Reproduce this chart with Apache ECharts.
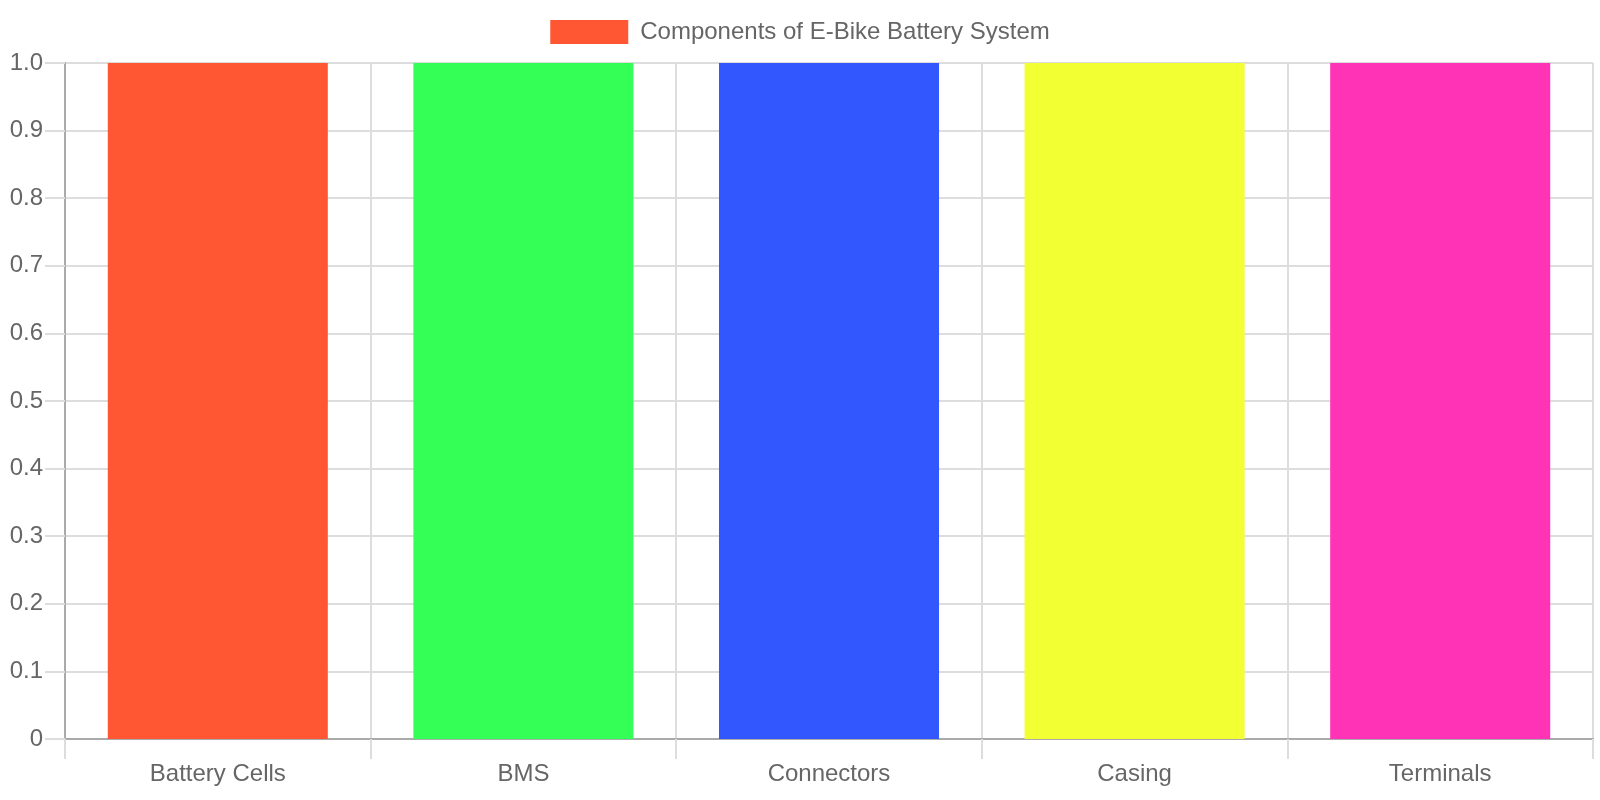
<!DOCTYPE html>
<html>
<head>
<meta charset="utf-8">
<script src="https://cdn.jsdelivr.net/npm/echarts@6/dist/echarts.min.js"></script>
<style>
  html, body { margin: 0; padding: 0; background: #fff; }
  #chart { width: 1600px; height: 800px; }
</style>
</head>
<body>
<div id="chart"></div>
<script>
const categories = ["Battery Cells", "BMS", "Connectors", "Casing", "Terminals"];
const values = [1, 1, 1, 1, 1];
const barColors = ["#FF5733", "#33FF57", "#3357FF", "#F1FF33", "#FF33B5"];
const seriesName = "Components of E-Bike Battery System";

const font = "Liberation Sans, Arial, sans-serif";

const option = {
  animation: false,
  textStyle: { fontFamily: font },
  legend: {
    top: 15,
    left: "center",
    icon: "rect",
    itemWidth: 78,
    itemHeight: 24,
    itemGap: 12,
    textStyle: { color: "#666", fontSize: 24, fontFamily: font, padding: [0, 0, 0, 7] },
    data: [seriesName]
  },
  grid: {
    left: 65,
    right: 7,
    top: 63,
    bottom: 61
  },
  xAxis: {
    type: "category",
    data: categories,
    boundaryGap: true,
    axisLine: { show: true, lineStyle: { color: "#aaa", width: 2 } },
    axisTick: { show: true, length: 20, lineStyle: { color: "#ddd", width: 2 } },
    axisLabel: { color: "#666", fontSize: 24, margin: 23, fontFamily: font },
    splitLine: { show: true, lineStyle: { color: "#ddd", width: 2 } }
  },
  yAxis: {
    type: "value",
    min: 0,
    max: 1,
    interval: 0.1,
    axisLine: { show: true, lineStyle: { color: "#aaa", width: 2 } },
    axisTick: { show: true, length: 20, lineStyle: { color: "#ddd", width: 2 } },
    axisLabel: {
      color: "#666",
      fontSize: 24,
      margin: 22,
      fontFamily: font,
      formatter: function (v) {
        return v === 0 ? "0" : v.toFixed(1);
      }
    },
    splitLine: { show: true, lineStyle: { color: "#ddd", width: 2 } }
  },
  series: [
    {
      name: seriesName,
      type: "bar",
      barCategoryGap: "28%",
      itemStyle: { color: barColors[0] },
      data: values.map(function (v, i) {
        return { value: v, itemStyle: { color: barColors[i] } };
      })
    }
  ]
};

const myChart = echarts.init(document.getElementById("chart"));
myChart.setOption(option);
</script>
</body>
</html>
